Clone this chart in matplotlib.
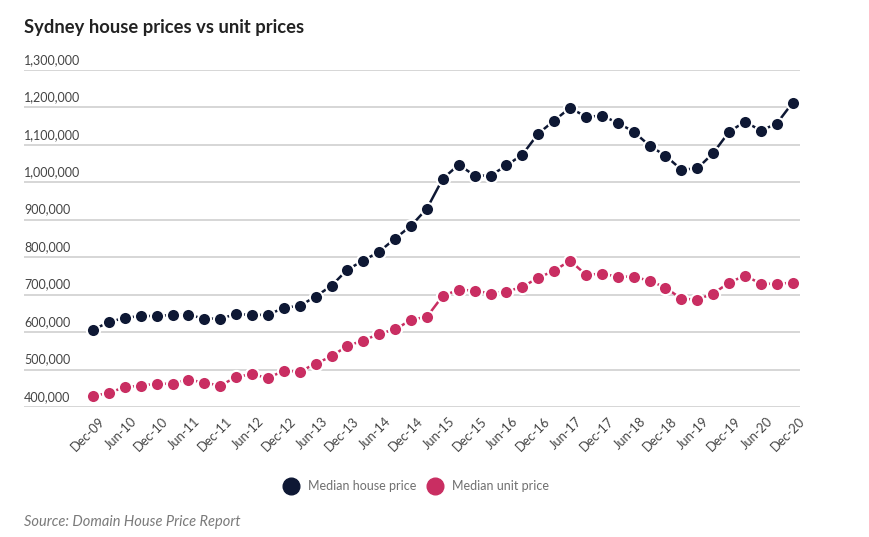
import matplotlib
matplotlib.use("Agg")
import matplotlib.pyplot as plt
import matplotlib.transforms as mtransforms
from matplotlib.lines import Line2D

# ---- data ----
quarters = []
for yr in range(9, 21):
    for m in ["Mar", "Jun", "Sep", "Dec"]:
        if yr == 9 and m != "Dec":
            continue
        quarters.append(f"{m}-{yr:02d}")

house_prices = [606000, 627000, 638000, 643000, 643000, 646000, 646000, 636000, 636000,
                648000, 646000, 646000, 665000, 670000, 695000, 724000, 767000, 791000,
                815000, 850000, 884000, 930000, 1010000, 1047000, 1018000, 1018000,
                1045000, 1074000, 1130000, 1165000, 1199000, 1175000, 1178000, 1159000,
                1135000, 1098000, 1071000, 1034000, 1037000, 1078000, 1135000, 1162000,
                1138000, 1157000, 1213000]
unit_prices = [429000, 438000, 453000, 457000, 462000, 462000, 473000, 465000, 457000,
               480000, 488000, 477000, 497000, 494000, 516000, 535000, 564000, 577000,
               596000, 607000, 633000, 641000, 697000, 713000, 711000, 703000, 708000,
               721000, 745000, 764000, 791000, 753000, 756000, 748000, 748000, 737000,
               719000, 689000, 687000, 703000, 732000, 751000, 729000, 729000, 732000]
y_ticks = [400000, 500000, 600000, 700000, 800000, 900000, 1000000, 1100000, 1200000, 1300000]
series_names = ["Median house price", "Median unit price"]
title = "Sydney house prices vs unit prices"
source = "Source: Domain House Price Report"

HOUSE_C = "#0e1834"
UNIT_C = "#c92e62"
GRID_C = "#cfcfcf"
TEXT_C = "#444444"

W, H = 869, 537
fig = plt.figure(figsize=(W / 100, H / 100), dpi=100)
fig.patch.set_facecolor("white")

left_px, right_px, top_px, bot_px = 24, 800, 70, 407
ax = fig.add_axes([left_px / W, (H - bot_px) / H, (right_px - left_px) / W, (bot_px - top_px) / H])
for s in ax.spines.values():
    s.set_visible(False)

x = list(range(len(quarters)))
px_per_q = (792.7 - 93) / 44
ax.set_xlim(-(93 - left_px) / px_per_q, (right_px - 93) / px_per_q)
ax.set_ylim(y_ticks[0], y_ticks[-1])

for yv in y_ticks:
    ax.axhline(yv, color=GRID_C, lw=1.2, zorder=1)

ax.set_yticks([])
off = mtransforms.offset_copy(ax.get_yaxis_transform(), fig=fig, x=0, y=3, units="points")
for yv in y_ticks:
    ax.text(0, yv, f"{yv:,}", transform=off, ha="left", va="bottom",
            fontsize=9, color=TEXT_C, family="Lato")

for vals, col in [(house_prices, HOUSE_C), (unit_prices, UNIT_C)]:
    ax.plot(x, vals, color=col, lw=1.8, marker="o", markersize=9.5,
            markerfacecolor=col, markeredgecolor="white", markeredgewidth=1.5,
            zorder=3, clip_on=False)

ax.set_xticks(x[::2])
ax.set_xticklabels(quarters[::2], rotation=45, ha="right", va="top",
                   rotation_mode="anchor", fontsize=9.3, color=TEXT_C, family="Lato")
ax.tick_params(axis="x", length=0, pad=6)
for lbl in ax.get_xticklabels():
    lbl.set_transform(lbl.get_transform() + mtransforms.ScaledTranslation(4 / 72, 0, fig.dpi_scale_trans))

fig.text(24 / W, 1 - 28 / H, title, ha="left", va="center", fontsize=13.2,
         fontweight="bold", color="#222222", family="Lato")
fig.text(24 / W, 1 - 522 / H, source, ha="left", va="center", fontsize=10.5,
         style="italic", color="#7a7a7a", family="Lato")

handles = [Line2D([], [], ls="none", marker="o", markersize=12, color=HOUSE_C),
           Line2D([], [], ls="none", marker="o", markersize=12, color=UNIT_C)]
leg = fig.legend(handles, series_names, loc="center", bbox_to_anchor=(416 / W, 1 - 486 / H),
                 ncol=2, frameon=False, handletextpad=0.75, columnspacing=0.9,
                 handlelength=1.2, prop={"family": "Lato", "size": 9})
for t in leg.get_texts():
    t.set_color("#707070")

fig.savefig("out.png", dpi=100, facecolor="white")
